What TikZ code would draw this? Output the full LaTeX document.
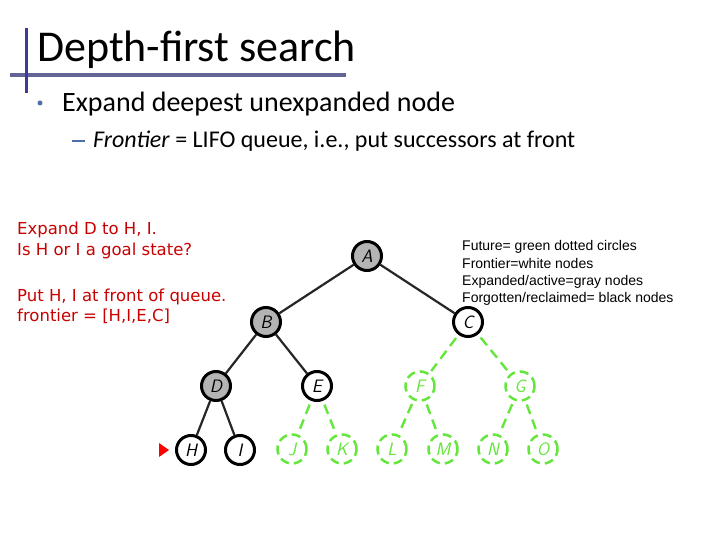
\documentclass[tikz,border=0pt]{standalone}
\usepackage{fontspec}
\setmainfont{Carlito}
\newfontfamily\tahoma{DejaVu Sans}
\newfontfamily\legendfont{Liberation Sans}
\usetikzlibrary{arrows.meta}
\definecolor{titlebar}{RGB}{60,60,150}
\definecolor{titleline}{RGB}{100,100,150}
\definecolor{bulletblue}{RGB}{80,110,170}
\definecolor{redtext}{RGB}{200,0,0}
\definecolor{gnode}{RGB}{100,230,60}
\definecolor{grayfill}{RGB}{180,180,180}
\tikzset{
  tn/.style={circle,draw=black,line width=3pt,minimum size=29pt,inner sep=0pt,
    font=\sffamily\itshape\fontsize{18}{18}\selectfont},
  expanded/.style={tn,fill=grayfill},
  frontier/.style={tn,fill=white},
  future/.style={circle,draw=gnode,dash pattern=on 9pt off 5pt,line width=2.5pt,minimum size=29pt,inner sep=0pt,
    text=gnode,font=\sffamily\itshape\fontsize{18}{18}\selectfont},
  blackedge/.style={draw=black!85,line width=2.2pt},
  greenedge/.style={draw=gnode,line width=2.4pt,dash pattern=on 10pt off 6pt,shorten <=4pt,shorten >=3pt},
  redline/.style={anchor=base west,inner sep=0pt,text=redtext,font=\tahoma\fontsize{16.5}{20}\selectfont},
  legline/.style={anchor=base west,inner sep=0pt,font=\legendfont\fontsize{14}{17}\selectfont},
}
\begin{document}
\begin{tikzpicture}[x=1pt,y=-1pt]
\useasboundingbox (0,0) rectangle (720,540);
% title
\fill[titleline] (10,73.5) rectangle (346,77);
\fill[titlebar] (24.5,28) rectangle (28,93);
\node[anchor=base west,inner sep=0pt,font=\fontsize{44}{44}\selectfont] (title) at (37,62) {Depth-first search};
\fill[bulletblue] (40,103) circle (2.5);
\node[anchor=base west,inner sep=0pt,font=\fontsize{28}{28}\selectfont] (b1) at (62,112) {Expand deepest unexpanded node};
\fill[bulletblue] (72,140.5) rectangle (85,142);
\node[anchor=base west,inner sep=0pt,font=\fontsize{24}{24}\selectfont] (b2) at (93,148) {\textit{Frontier} = LIFO queue, i.e., put successors at front};
% red text
\node[redline] (r1) at (17,235) {Expand D to H, I.};
\node[redline] (r2) at (17,255) {Is H or I a goal state?};
\node[redline] (r3) at (17,301) {Put H, I at front of queue.};
\node[redline] (r4) at (17,321) {frontier = [H,I,E,C]};
% legend
\node[legline] (l1) at (462,251) {Future= green dotted circles};
\node[legline] (l2) at (462,268) {Frontier=white nodes};
\node[legline] (l3) at (462,285) {Expanded/active=gray nodes};
\node[legline] (l4) at (462,302) {Forgotten/reclaimed= black nodes};
% tree nodes
\node[expanded] (A) at (367,256) {A};
\node[expanded] (B) at (266,322) {B};
\node[frontier] (C) at (468,322) {C};
\node[expanded] (D) at (216,386) {D};
\node[frontier] (E) at (317,386) {E};
\node[future] (F) at (420,386) {F};
\node[future] (G) at (520,386) {G};
\node[frontier] (H) at (191,450) {H};
\node[frontier] (I) at (240,450) {I};
\node[future] (J) at (292,449) {J};
\node[future] (K) at (342,449) {K};
\node[future] (L) at (392,449) {L};
\node[future] (M) at (443,449) {M};
\node[future] (N) at (493,449) {N};
\node[future] (O) at (543,449) {O};
% edges
\draw[blackedge] (A) -- (B);
\draw[blackedge] (A) -- (C);
\draw[blackedge] (B) -- (D);
\draw[blackedge] (B) -- (E);
\draw[blackedge] (D) -- (H);
\draw[blackedge] (D) -- (I);
\draw[greenedge] (C) -- (F);
\draw[greenedge] (C) -- (G);
\draw[greenedge] (E) -- (J);
\draw[greenedge] (E) -- (K);
\draw[greenedge] (F) -- (L);
\draw[greenedge] (F) -- (M);
\draw[greenedge] (G) -- (N);
\draw[greenedge] (G) -- (O);
% pointer
\coordinate (ptr) at (169,450);
\fill[red] (ptr) -- ++(-10,-7) -- ++(0,14) -- cycle;
\end{tikzpicture}
\end{document}
